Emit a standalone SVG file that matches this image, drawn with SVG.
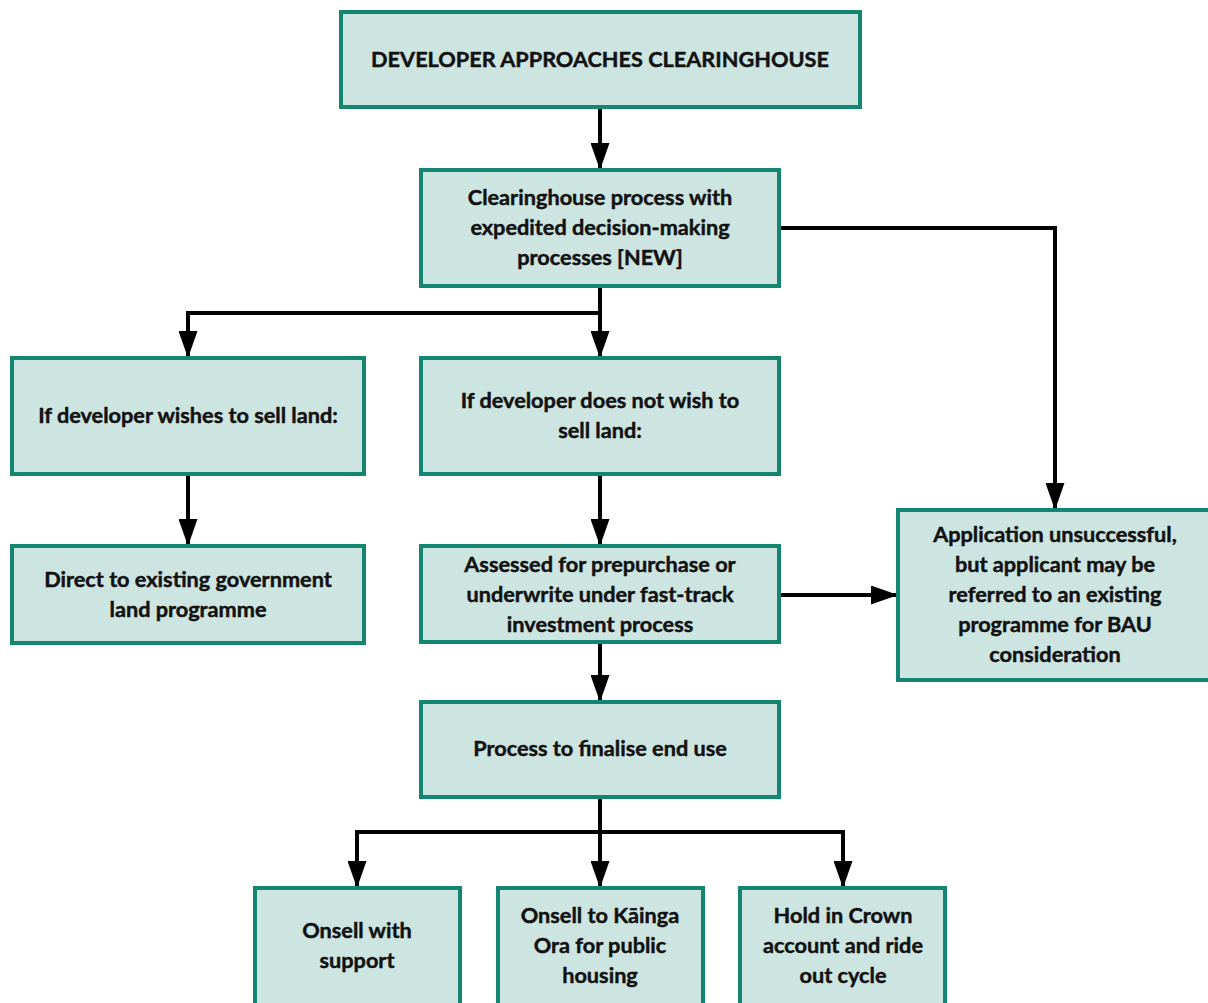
<svg xmlns="http://www.w3.org/2000/svg" width="1208" height="1003" viewBox="0 0 1208 1003">
<style>
.box{fill:#cde5e0;stroke:#138570;stroke-width:4}
.t{font-family:Lato,"Open Sans","Liberation Sans",sans-serif;font-weight:700;font-size:21.7px;fill:#111;stroke:#111;stroke-width:0.45;text-anchor:middle}
.c{fill:none;stroke:#000;stroke-width:4}
</style>
<defs>
<marker id="ah" markerUnits="userSpaceOnUse" markerWidth="27" markerHeight="19" refX="27" refY="9.5" viewBox="0 0 27 19" orient="auto">
<path d="M0,0 L27,9.5 L0,19 Z" fill="#000"/>
</marker>
</defs>
<rect width="1208" height="1003" fill="#fff"/>
<g id="connectors">
<path class="c" d="M600,107 V170" marker-end="url(#ah)"/>
<path class="c" d="M600,286 V358" marker-end="url(#ah)"/>
<path class="c" d="M600,313 H188 V358" marker-end="url(#ah)"/>
<path class="c" d="M779,228 H1055 V510" marker-end="url(#ah)"/>
<path class="c" d="M188,474 V546" marker-end="url(#ah)"/>
<path class="c" d="M600,474 V546" marker-end="url(#ah)"/>
<path class="c" d="M779,595 H898" marker-end="url(#ah)"/>
<path class="c" d="M600,642 V702" marker-end="url(#ah)"/>
<path class="c" d="M600,797 V888" marker-end="url(#ah)"/>
<path class="c" d="M600,832 H357 V888" marker-end="url(#ah)"/>
<path class="c" d="M600,832 H843 V888" marker-end="url(#ah)"/>
</g>
<g id="n1"><rect class="box" x="341" y="12" width="519" height="95"/><text class="t" x="600" y="67">DEVELOPER APPROACHES CLEARINGHOUSE</text></g>
<g id="n2"><rect class="box" x="421" y="170" width="358" height="116"/><text class="t" x="600" y="205">Clearinghouse process with</text><text class="t" x="600" y="235">expedited decision-making</text><text class="t" x="600" y="265">processes [NEW]</text></g>
<g id="n3"><rect class="box" x="12" y="358" width="352" height="116"/><text class="t" x="188" y="423">If developer wishes to sell land:</text></g>
<g id="n4"><rect class="box" x="421" y="358" width="358" height="116"/><text class="t" x="600" y="408">If developer does not wish to</text><text class="t" x="600" y="438">sell land:</text></g>
<g id="n5"><rect class="box" x="12" y="546" width="352" height="97"/><text class="t" x="188" y="587">Direct to existing government</text><text class="t" x="188" y="617">land programme</text></g>
<g id="n6"><rect class="box" x="421" y="546" width="358" height="96"/><text class="t" x="600" y="572">Assessed for prepurchase or</text><text class="t" x="600" y="602">underwrite under fast-track</text><text class="t" x="600" y="632">investment process</text></g>
<g id="n7"><rect class="box" x="898" y="510" width="314" height="170"/><text class="t" x="1055" y="542">Application unsuccessful,</text><text class="t" x="1055" y="572">but applicant may be</text><text class="t" x="1055" y="602">referred to an existing</text><text class="t" x="1055" y="632">programme for BAU</text><text class="t" x="1055" y="662">consideration</text></g>
<g id="n8"><rect class="box" x="421" y="702" width="358" height="95"/><text class="t" x="600" y="756">Process to finalise end use</text></g>
<g id="n9"><rect class="box" x="255" y="888" width="205" height="120"/><text class="t" x="357" y="938">Onsell with</text><text class="t" x="357" y="968">support</text></g>
<g id="n10"><rect class="box" x="498" y="888" width="205" height="120"/><text class="t" x="600" y="923">Onsell to Kāinga</text><text class="t" x="600" y="953">Ora for public</text><text class="t" x="600" y="983">housing</text></g>
<g id="n11"><rect class="box" x="740" y="888" width="205" height="120"/><text class="t" x="843" y="923">Hold in Crown</text><text class="t" x="843" y="953">account and ride</text><text class="t" x="843" y="983">out cycle</text></g>
</svg>
